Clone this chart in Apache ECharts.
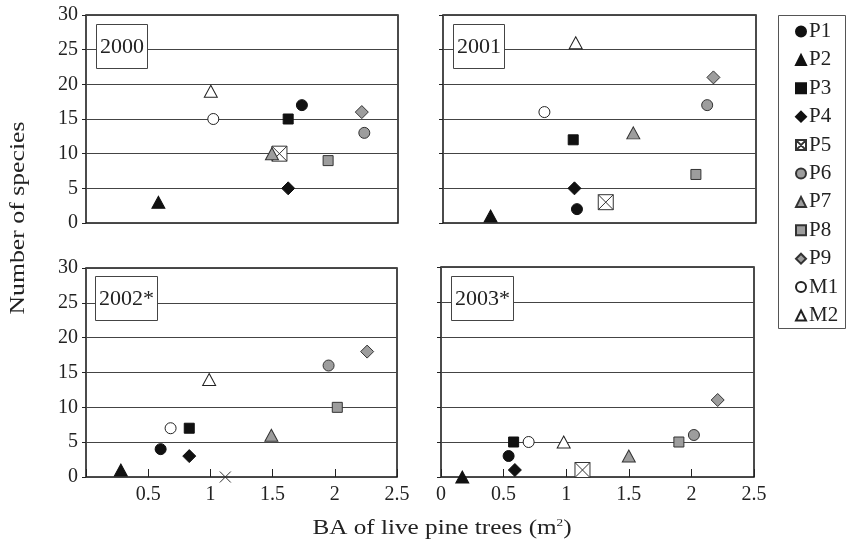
<!DOCTYPE html>
<html>
<head>
<meta charset="utf-8">
<script src="https://cdn.jsdelivr.net/npm/echarts@6/dist/echarts.min.js"></script>
<style>
  html, body { margin: 0; padding: 0; background: #fff; }
  #chart { width: 847px; height: 547px; }
</style>
</head>
<body>
<div id="chart"></div>
<script>
// Plots and markers
const groups = ['P1', 'P2', 'P3', 'P4', 'P5', 'P6', 'P7', 'P8', 'P9', 'M1', 'M2'];
const years = ['2000', '2001', '2002*', '2003*'];

// Basal area of live pine trees (m²), one value per plot, in the order of `groups`
const ba2000 = [1.73, 0.58, 1.62, 1.62, 1.55, 2.23, 1.49, 1.94, 2.21, 1.02, 1.00];
const ba2001 = [1.07, 0.38, 1.04, 1.05, 1.30, 2.11, 1.52, 2.02, 2.16, 0.81, 1.06];
const ba2002 = [0.60, 0.28, 0.83, 0.83, 1.12, 1.95, 1.49, 2.02, 2.26, 0.68, 0.99];
const ba2003 = [0.54, 0.17, 0.58, 0.59, 1.13, 2.02, 1.50, 1.90, 2.21, 0.70, 0.98];

// Number of species, same order
const sp2000 = [17, 3, 15, 5, 10, 13, 10, 9, 16, 15, 19];
const sp2001 = [2, 1, 12, 5, 3, 17, 13, 7, 21, 16, 26];
const sp2002 = [4, 1, 7, 3, 0, 16, 6, 10, 18, 7, 14];
const sp2003 = [3, 0, 5, 1, 1, 6, 3, 5, 11, 5, 5];

const yTicks = [0, 5, 10, 15, 20, 25, 30];
const xTicks = [0, 0.5, 1, 1.5, 2, 2.5];

const baByYear = [ba2000, ba2001, ba2002, ba2003];
const spByYear = [sp2000, sp2001, sp2002, sp2003];

// ---- layout ----
const panels = [
  { left: 86,  top: 15,  width: 312, height: 208, yLabels: true,  xLabels: false, showZero: false },
  { left: 443, top: 15,  width: 313, height: 208, yLabels: false, xLabels: false, showZero: false },
  { left: 86,  top: 268, width: 311, height: 209, yLabels: true,  xLabels: true,  showZero: false },
  { left: 441, top: 267, width: 313, height: 210, yLabels: false, xLabels: true,  showZero: true }
];
const yearBoxes = [
  { left: 96,  top: 24 },
  { left: 453, top: 24 },
  { left: 95,  top: 276 },
  { left: 451, top: 276 }
];

const SERIF = 'Liberation Serif, Times New Roman, serif';
const BOXED_X = 'path://M0,0H10V10H0ZM0,0L10,10M10,0L0,10';
const CROSS = 'path://M0,0L10,10M10,0L0,10';

const black = { color: '#111', borderColor: '#111', borderWidth: 1 };
const gray = { color: '#9d9d9d', borderColor: '#333', borderWidth: 1 };
const open = { color: '#fff', borderColor: '#222', borderWidth: 1 };

const markerStyles = {
  P1: { symbol: 'circle', size: 11, style: black },
  P2: { symbol: 'triangle', size: [13, 12], style: black },
  P3: { symbol: 'rect', size: 10, style: black },
  P4: { symbol: 'diamond', size: [13, 13], style: black },
  P5: { symbol: BOXED_X, size: 15, style: { color: '#fff', borderColor: '#333', borderWidth: 1 } },
  P6: { symbol: 'circle', size: 11, style: gray },
  P7: { symbol: 'triangle', size: [13, 12], style: gray },
  P8: { symbol: 'rect', size: 10, style: gray },
  P9: { symbol: 'diamond', size: [13, 13], style: gray },
  M1: { symbol: 'circle', size: 11, style: open },
  M2: { symbol: 'triangle', size: [13, 12], style: open }
};

const grid = panels.map(p => ({
  left: p.left, top: p.top, width: p.width, height: p.height,
  show: true, borderColor: '#111', borderWidth: 1.5, backgroundColor: 'transparent'
}));

const xAxis = panels.map((p, i) => ({
  type: 'value', gridIndex: i,
  min: xTicks[0], max: xTicks[xTicks.length - 1], interval: 0.5,
  axisLine: { show: false },
  splitLine: { show: false },
  axisTick: { show: p.xLabels, inside: true, length: 8, lineStyle: { color: '#222', width: 1 } },
  axisLabel: {
    show: p.xLabels, margin: 8,
    fontFamily: SERIF, fontSize: 20, color: '#222',
    formatter: v => (v === 0 && !p.showZero) ? '' : String(v)
  }
}));

const yAxis = panels.map((p, i) => ({
  type: 'value', gridIndex: i,
  min: yTicks[0], max: yTicks[yTicks.length - 1], interval: 5,
  axisLine: { show: false },
  splitLine: { show: true, lineStyle: { color: '#444', width: 1 } },
  axisTick: { show: true, inside: false, length: 4, lineStyle: { color: '#222', width: 1 } },
  axisLabel: { show: p.yLabels, margin: 8, fontFamily: SERIF, fontSize: 20, color: '#222' }
}));

const series = [];
years.forEach((year, i) => {
  groups.forEach((g, j) => {
    const m = markerStyles[g];
    const point = { value: [baByYear[i][j], spByYear[i][j]] };
    // In 2002 the P5 plot is marked with a plain cross on the baseline
    if (g === 'P5' && year === '2002*') {
      point.symbol = CROSS;
      point.symbolSize = 11;
    }
    series.push({
      type: 'scatter',
      name: g,
      xAxisIndex: i,
      yAxisIndex: i,
      symbol: m.symbol,
      symbolSize: m.size,
      itemStyle: Object.assign({ opacity: 1 }, m.style),
      clip: false,
      emphasis: { disabled: true },
      data: [point]
    });
  });
});

const title = years.map((year, i) => ({
  text: year,
  left: yearBoxes[i].left,
  top: yearBoxes[i].top,
  padding: [12, 4, 11, 4],
  backgroundColor: '#fff',
  borderColor: '#444',
  borderWidth: 1,
  textStyle: { fontFamily: SERIF, fontSize: 22, fontWeight: 'normal', color: '#222', lineHeight: 22 }
}));

const option = {
  animation: false,
  backgroundColor: '#fff',
  title,
  grid,
  xAxis,
  yAxis,
  series,
  legend: {
    data: groups,
    orient: 'vertical',
    left: 795,
    top: 21,
    padding: 0,
    itemWidth: 10,
    itemHeight: 10,
    itemGap: 7.4,
    selectedMode: false,
    textStyle: { fontFamily: SERIF, fontSize: 21, color: '#222', lineHeight: 20, padding: [0, 0, 0, -2] }
  },
  graphic: [
    {
      type: 'rect',
      shape: { x: 778.5, y: 15.5, width: 67, height: 313 },
      style: { fill: 'none', stroke: '#555', lineWidth: 1 },
      silent: true
    },
    {
      type: 'text',
      x: 18, y: 218, rotation: Math.PI / 2, scaleX: 1.17,
      style: {
        text: 'Number of species',
        fontFamily: SERIF, fontSize: 22, fill: '#222',
        align: 'center', verticalAlign: 'middle'
      },
      silent: true
    },
    {
      type: 'text',
      x: 442, y: 528, scaleX: 1.2,
      style: {
        text: 'BA of live pine trees (m{sup|2})',
        fontFamily: SERIF, fontSize: 21, fill: '#222',
        align: 'center', verticalAlign: 'middle',
        rich: { sup: { fontFamily: SERIF, fontSize: 11, fill: '#222', verticalAlign: 'top', padding: [0, 0, 8, 0] } }
      },
      silent: true
    }
  ]
};

const chart = echarts.init(document.getElementById('chart'), null, { renderer: 'canvas' });
chart.setOption(option);
</script>
</body>
</html>
